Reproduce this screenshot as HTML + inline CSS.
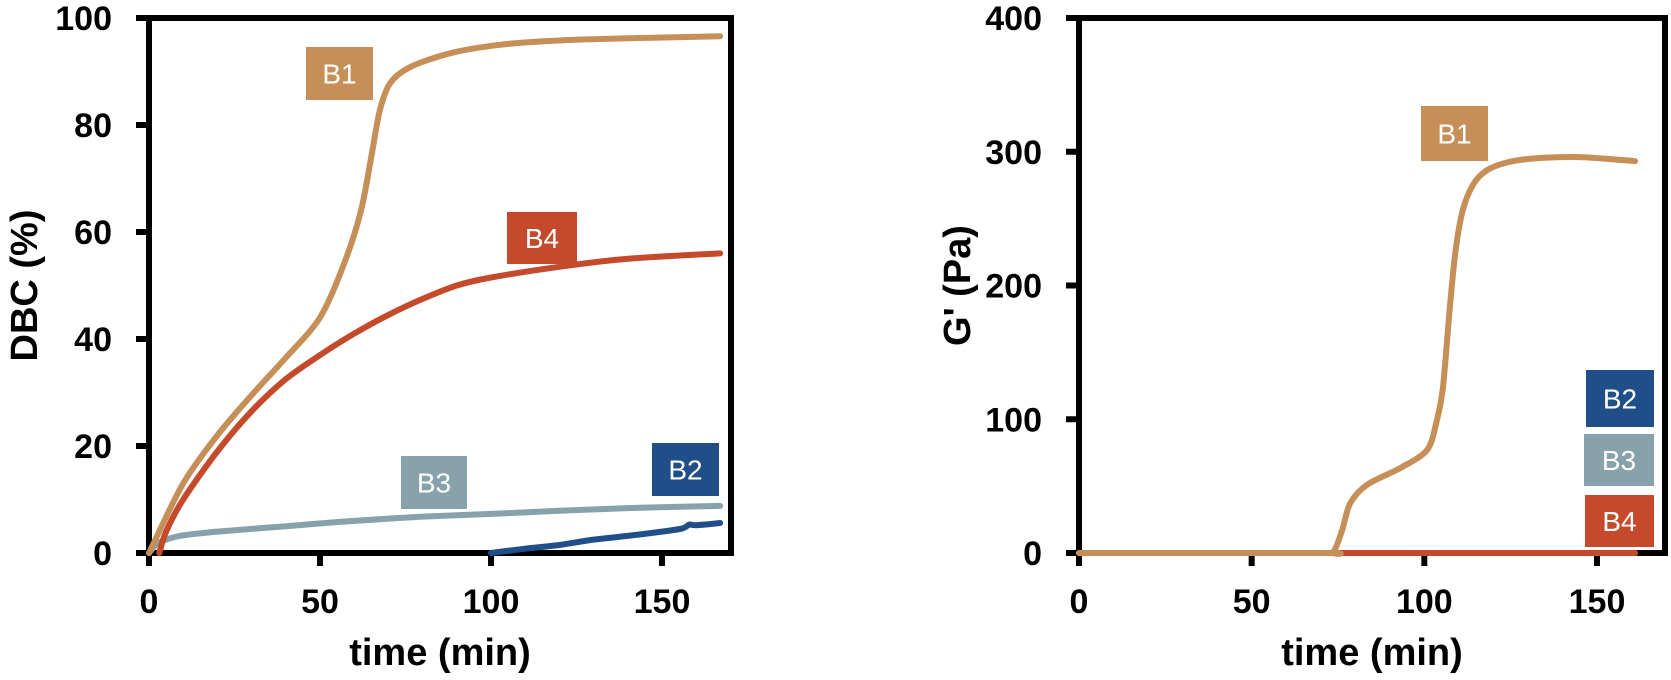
<!DOCTYPE html>
<html><head><meta charset="utf-8"><style>
html,body{margin:0;padding:0;background:#fff;}
svg{display:block;font-family:"Liberation Sans",Arial,sans-serif;}
.tick{font-size:34px;font-weight:bold;fill:#000;}
.title{font-size:38px;font-weight:bold;fill:#000;}
.lab{font-size:28px;fill:#fff;}
</style></head><body>
<svg id="chart" width="1671" height="680" viewBox="0 0 1671 680">
<g id="left"></g>
<g id="right"></g>
</svg>
<script>
const xTicks = [0, 50, 100, 150];
const leftYTicks = [0, 20, 40, 60, 80, 100];
const rightYTicks = [0, 100, 200, 300, 400];
// Left panel: DBC (%)
const b1T = [0,10,20,30,40,50,57,62,65.2,67.5,70.5,76.3,88,102.6,120,140,167];
const b1V = [0,13,22,29.5,36.5,44,54,64,74.8,82.8,87.8,90.8,93.4,95,95.8,96.2,96.6];
const b4T = [3,5,10,20,30,40,50,60,70,80,90,100,120,140,167];
const b4V = [0,4,10,19,26.5,32.5,37,41,44.5,47.5,50,51.5,53.5,55,56];
const b3T = [0,2,5,10,20,40,60,80,100,120,140,167];
const b3V = [0,1.5,2.5,3.3,4,5,6,6.8,7.3,7.9,8.4,8.8];
const b2T = [100,110,120,130,140,150,156,158,160,167];
const b2V = [0,0.8,1.5,2.5,3.2,4,4.6,5.3,5.2,5.6];
// Right panel: G' (Pa)
const g1T = [0,70,73.6,76.2,78.5,83.4,93,100.8,103.6,105.4,107.4,109,111,114,118,124,132,145,161];
const g1V = [0,0,0.7,17,37,51,63.5,77,99,124,184,225,255,275,286,292,295,296,293];
const g4T = [0,161];
const g4V = [0,0];
const g2T = [0,161];
const g2V = [0,0];
const g3T = [0,161];
const g3V = [0,0];

const NS = "http://www.w3.org/2000/svg";
function mk(parent, tag, attrs){const e=document.createElementNS(NS,tag);for(const k in attrs)e.setAttribute(k,attrs[k]);parent.appendChild(e);return e;}
function smooth(pts){
  if(pts.length<3) return pts.map((p,i)=>(i?'L':'M')+p[0].toFixed(1)+','+p[1].toFixed(1)).join(' ');
  let d='M'+pts[0][0].toFixed(1)+','+pts[0][1].toFixed(1);
  for(let i=0;i<pts.length-1;i++){
    const p0=pts[Math.max(0,i-1)],p1=pts[i],p2=pts[i+1],p3=pts[Math.min(pts.length-1,i+2)];
    const k=1/6*0.9;
    const c1=[p1[0]+(p2[0]-p0[0])*k,p1[1]+(p2[1]-p0[1])*k];
    const c2=[p2[0]-(p3[0]-p1[0])*k,p2[1]-(p3[1]-p1[1])*k];
    d+=' C'+c1[0].toFixed(1)+','+c1[1].toFixed(1)+' '+c2[0].toFixed(1)+','+c2[1].toFixed(1)+' '+p2[0].toFixed(1)+','+p2[1].toFixed(1);
  }
  return d;
}

function panel(g, o){
  const sx = t => o.x0 + t * (o.x1 - o.x0) / o.tmax;
  const sy = v => o.y0 - v * (o.y0 - o.y1) / o.vmax;
  const frame = mk(g,'rect',{x:o.x0,y:o.y1,width:o.right-o.x0,height:o.y0-o.y1,fill:'none',stroke:'#000','stroke-width':6});
  
  
  xTicks.forEach(t=>{
    const x=sx(t);
    const l=mk(g,'line',{x1:x,y1:o.y0,x2:x,y2:o.y0+13,stroke:'#000','stroke-width':6});
    
    
    const tx=mk(g,'text',{x:x,y:o.y0+60,'text-anchor':'middle',class:'tick'});
    tx.textContent=t;
    
    
  });
  o.yTicks.forEach(v=>{
    const y=sy(v);
    const l=mk(g,'line',{x1:o.x0-13,y1:y,x2:o.x0,y2:y,stroke:'#000','stroke-width':6});
    
    
    const tx=mk(g,'text',{x:o.x0-37,y:y+12,'text-anchor':'end',class:'tick'});
    tx.textContent=v;
    
    
  });
  o.series.forEach(s=>{
    const pts=s.t.map((t,i)=>[sx(t),sy(s.v[i])]);
    const p=mk(g,'path',{d:smooth(pts),fill:'none',stroke:s.c,'stroke-width':6,'stroke-linecap':'round','stroke-linejoin':'round'});
    
    
  });
  o.labels.forEach(b=>{
    const r=mk(g,'rect',{x:b.x,y:b.y,width:b.w,height:b.h,fill:b.c});
    
    
    const tx=mk(g,'text',{x:b.x+b.w/2,y:b.y+b.h/2+10,'text-anchor':'middle',class:'lab'});
    tx.textContent=b.text;
    
    
  });
  const xt=mk(g,'text',{x:(o.x0+o.right)/2,y:665,'text-anchor':'middle',class:'title'});
  xt.textContent='time (min)';
  
  
  const cy=(o.y0+o.y1)/2;
  const yt=mk(g,'text',{x:o.ytx,y:cy,'text-anchor':'middle',class:'title',transform:'rotate(-90 '+o.ytx+' '+cy+')'});
  yt.textContent=o.ytitle;
  
  
}
const C1='#c68f58',C2='#1f4e89',C3='#87a2aa',C4='#c54a2c';
panel(document.getElementById('left'),{
  x0:149,x1:662,tmax:150,right:731,y0:553,y1:18,vmax:100,yTicks:leftYTicks,ytitle:'DBC (%)',ytx:37,
  series:[{t:b2T,v:b2V,c:C2,name:'series-b2'},{t:b3T,v:b3V,c:C3,name:'series-b3'},{t:b4T,v:b4V,c:C4,name:'series-b4'},{t:b1T,v:b1V,c:C1,name:'series-b1'}],
  labels:[{x:306,y:47,w:67,h:53,c:C1,text:'B1',name:'label-b1'},{x:507,y:212,w:70,h:52,c:C4,text:'B4',name:'label-b4'},
          {x:401,y:456,w:66,h:53,c:C3,text:'B3',name:'label-b3'},{x:652,y:443,w:67,h:53,c:C2,text:'B2',name:'label-b2'}]
});
panel(document.getElementById('right'),{
  x0:1079,x1:1597,tmax:150,right:1665,y0:553,y1:18,vmax:400,yTicks:rightYTicks,ytitle:"G' (Pa)",ytx:970,
  series:[{t:g2T,v:g2V,c:C2,name:'series-b2'},{t:g3T,v:g3V,c:C3,name:'series-b3'},{t:g4T,v:g4V,c:C4,name:'series-b4'},{t:g1T,v:g1V,c:C1,name:'series-b1'}],
  labels:[{x:1421,y:106,w:67,h:55,c:C1,text:'B1',name:'label-b1'},{x:1586,y:370,w:68,h:57,c:C2,text:'B2',name:'label-b2'},
          {x:1584,y:434,w:70,h:52,c:C3,text:'B3',name:'label-b3'},{x:1585,y:495,w:69,h:52,c:C4,text:'B4',name:'label-b4'}]
});
</script>
</body></html>
